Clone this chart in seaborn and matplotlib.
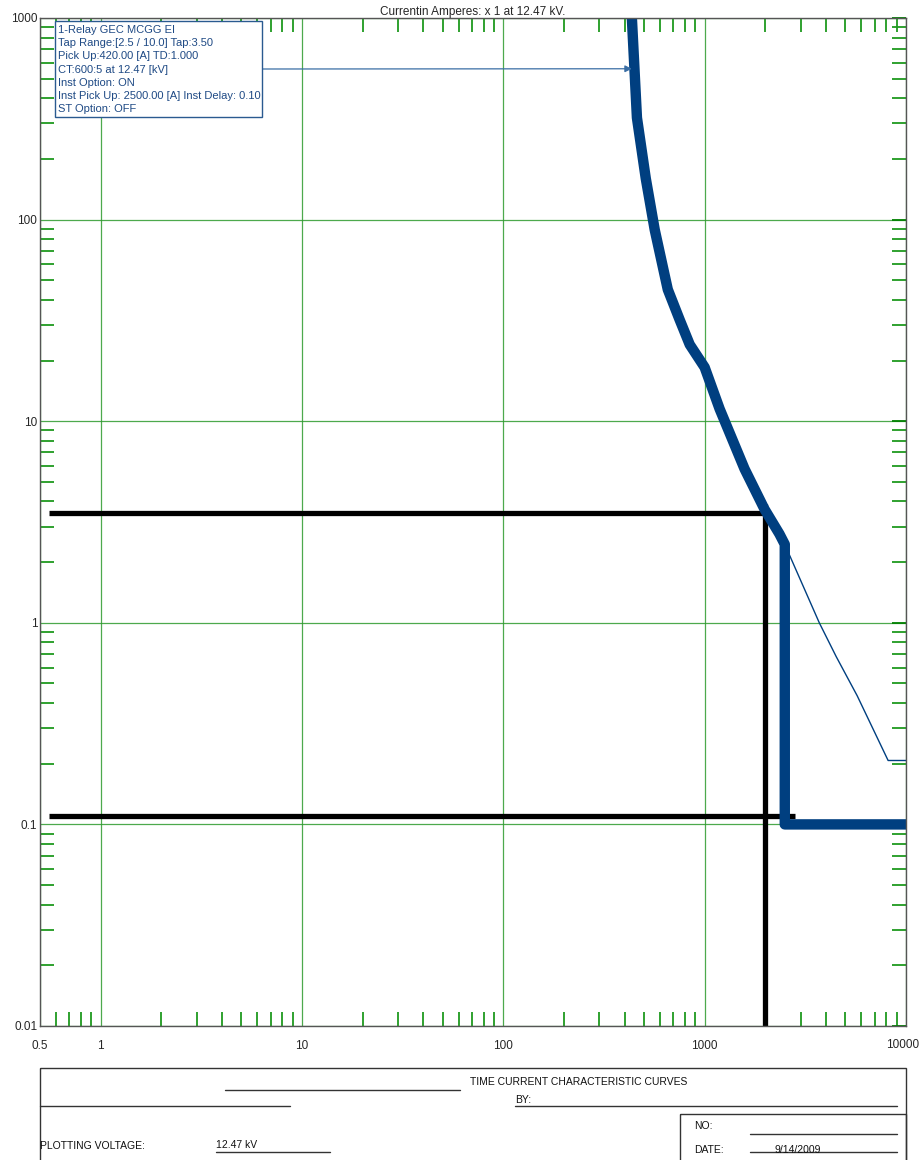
import numpy as np
import pandas as pd
import matplotlib.pyplot as plt
import matplotlib.ticker as mticker
from matplotlib.patches import Rectangle
import seaborn as sns

# ---- data (amps, seconds) ----
relay_amps = [435, 461, 510, 565, 656, 750, 843, 1000, 1187, 1578, 1983, 2351, 2500, 2500, 10000]
relay_secs = [1000, 320, 160, 89, 45, 32, 24, 18.5, 11.5, 5.8, 3.66, 2.76, 2.45, 0.1, 0.1]

ext_amps = [2500, 3710, 4500, 5720, 8150, 10000]
ext_secs = [2.45, 1.0, 0.68, 0.435, 0.2075, 0.2075]

# black limit lines (amps, seconds)
upper_amps = [0.553, 2000]
upper_secs = [3.5, 3.5]
lower_amps = [0.553, 2820]
lower_secs = [0.11, 0.11]
vert_amps = [2000, 2000]
vert_secs = [3.88, 0.01]

x_ticks = [0.5, 1, 10, 100, 1000, 10000]
x_labels = ["0.5", "1", "10", "100", "1000", "10000"]
y_ticks = [0.01, 0.1, 1, 10, 100, 1000]
y_labels = ["0.01", "0.1", "1", "10", "100", "1000"]

relay_info = ["1-Relay GEC MCGG EI",
              "Tap Range:[2.5 / 10.0] Tap:3.50",
              "Pick Up:420.00 [A] TD:1.000",
              "CT:600:5 at 12.47 [kV]",
              "Inst Option: ON",
              "Inst Pick Up: 2500.00 [A] Inst Delay: 0.10",
              "ST Option: OFF"]

sns.set_style("white")
plt.rcParams['font.family'] = ['Liberation Sans', 'DejaVu Sans']

BLUE = "#003f80"
GREEN = "#2e9a2e"

fig = plt.figure(figsize=(9.2, 11.6), dpi=100)
ax = fig.add_axes([40/920, 1 - 1026/1160, 866/920, 1008/1160])
ax.set_xscale("log")
ax.set_yscale("log")

# grid
ax.grid(True, which="major", color=GREEN, lw=0.9, alpha=0.85)
ax.set_axisbelow(True)

# curves
relay = pd.DataFrame({"amps": relay_amps, "secs": relay_secs})
ext = pd.DataFrame({"amps": ext_amps, "secs": ext_secs})
sns.lineplot(data=ext, x="amps", y="secs", ax=ax, color=BLUE, lw=1.0,
             sort=False, estimator=None)
for xs, ys in [(upper_amps, upper_secs), (lower_amps, lower_secs), (vert_amps, vert_secs)]:
    sns.lineplot(x=xs, y=ys, ax=ax, color="black", lw=3.8, sort=False, estimator=None,
                 solid_capstyle="butt")
sns.lineplot(data=relay, x="amps", y="secs", ax=ax, color=BLUE, lw=7.5, sort=False,
             estimator=None, solid_capstyle="round", solid_joinstyle="round")

ax.set_xlim(0.5, 10000)
ax.set_ylim(0.01, 1000)

# ticks
ax.set_xticks(x_ticks)
ax.set_xticklabels(x_labels)
ax.set_yticks(y_ticks)
ax.set_yticklabels(y_labels)
ax.xaxis.set_minor_locator(mticker.LogLocator(base=10, subs=np.arange(2, 10), numticks=20))
ax.yaxis.set_minor_locator(mticker.LogLocator(base=10, subs=np.arange(2, 10), numticks=20))
ax.xaxis.set_minor_formatter(mticker.NullFormatter())
ax.yaxis.set_minor_formatter(mticker.NullFormatter())
ax.tick_params(which="minor", direction="in", length=10, width=1.3, color="#1f9a1f",
               top=True, right=True, bottom=True, left=True)
ax.tick_params(axis="x", which="major", length=0, pad=10, labelsize=8.5)
ax.tick_params(axis="y", which="major", direction="in", length=10, width=1.3, color="green",
               pad=2, labelsize=8.5, right=True)
ax.set_xlabel("")
ax.set_ylabel("")
for s in ax.spines.values():
    s.set_color("#555555")
    s.set_linewidth(1.0)

ax.set_title("Currentin Amperes: x 1 at 12.47 kV.", fontsize=8.5, pad=2)

# relay info arrow
ax.annotate("", xy=(435, 560), xycoords="data", xytext=(262, 1160 - 69),
            textcoords="figure pixels",
            arrowprops=dict(arrowstyle="-|>", color="#3a6ea5", lw=0.9, mutation_scale=10,
                            shrinkA=0, shrinkB=0))

# overlay in pixel coords for box and title block
ov = fig.add_axes([0, 0, 1, 1], facecolor="none")
ov.set_xlim(0, 920)
ov.set_ylim(1160, 0)
ov.axis("off")

ov.add_patch(Rectangle((55, 21), 207, 96, fill=True, facecolor="white",
                       edgecolor="#2a5a90", lw=1.0))
for i, line in enumerate(relay_info):
    ov.text(58, 30 + i * 13.2, line, fontsize=8, color="#1f4a85", va="center", ha="left")

# hide the default last x label and redraw it so it stays inside the figure
ax.get_xticklabels()[-1].set_visible(False)
ov.text(919, 1045, x_labels[-1], fontsize=8.5, ha="right", va="center", color="#262626")

# title block
ov.add_patch(Rectangle((40, 1068), 866, 100, fill=False, edgecolor="#333333", lw=1.0))
ov.add_patch(Rectangle((680, 1114), 226, 60, fill=False, edgecolor="#333333", lw=1.0))
ov.plot([225, 460], [1090, 1090], color="#333333", lw=1.0)
ov.plot([40, 290], [1106, 1106], color="#333333", lw=1.0)
ov.plot([515, 897], [1106, 1106], color="#333333", lw=1.0)
ov.plot([750, 897], [1134, 1134], color="#333333", lw=1.0)
ov.plot([750, 897], [1152, 1152], color="#333333", lw=1.0)
ov.plot([216, 330], [1152, 1152], color="#333333", lw=1.0)
tb = dict(fontsize=7.5, color="#111111", va="center", ha="left")
ov.text(470, 1082, "TIME CURRENT CHARACTERISTIC CURVES", **tb)
ov.text(515, 1100, "BY:", **tb)
ov.text(694, 1126, "NO:", **tb)
ov.text(694, 1150, "DATE:", **tb)
ov.text(775, 1150, "9/14/2009", **tb)
ov.text(40, 1146, "PLOTTING VOLTAGE:", **tb)
ov.text(216, 1145, "12.47 kV", **tb)

fig.savefig("out.png", dpi=100)
